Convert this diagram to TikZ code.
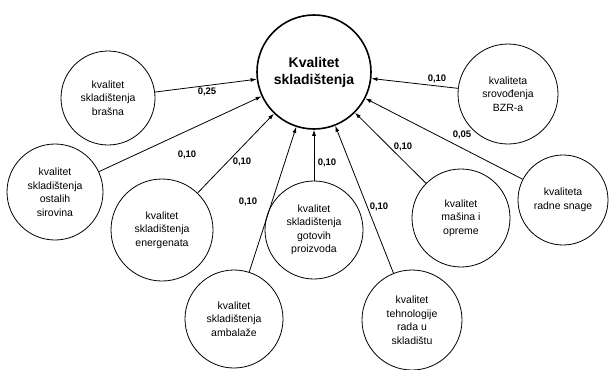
\documentclass[tikz,border=0pt]{standalone}
\usepackage{fontspec}
\setmainfont{Liberation Sans}
\usetikzlibrary{arrows.meta}
\begin{document}
\begin{tikzpicture}[x=1pt,y=-1pt,
  circ/.style={circle,draw,line width=0.8pt,inner sep=0pt,minimum size=#1,align=center,
    font=\fontsize{10.5}{13.5}\selectfont},
  mainc/.style={circle,draw,line width=1.6pt,inner sep=0pt,minimum size=114pt,align=center,
    font=\fontsize{14}{17}\selectfont\bfseries},
  arr/.style={-{Latex[length=6pt,width=4pt]},line width=0.8pt},
  lbl/.style={font=\fontsize{9.5}{11}\selectfont\bfseries,inner sep=0pt}]
\useasboundingbox (0,0) rectangle (609,369);
\node[mainc] (main) at (314,72) {Kvalitet\\skladištenja};
\node[circ=94pt] (bras) at (108,98) {kvalitet\\skladištenja\\brašna};
\node[circ=96pt] (ostal) at (55,192) {kvalitet\\skladištenja\\ostalih\\sirovina};
\node[circ=102pt] (energ) at (162,230) {kvalitet\\skladištenja\\energenata};
\node[circ=98pt] (ambal) at (234,319) {kvalitet\\skladištenja\\ambalaže};
\node[circ=98pt] (gotov) at (314,230) {kvalitet\\skladištenja\\gotovih\\proizvoda};
\node[circ=100pt] (tehno) at (412,320) {kvalitet\\tehnologije\\rada u\\skladištu};
\node[circ=98pt] (masin) at (461,218) {kvalitet\\mašina i\\opreme};
\node[circ=90pt] (radne) at (563,200) {kvaliteta\\radne snage};
\node[circ=100pt] (bzr) at (508,94) {kvaliteta\\srovođenja\\BZR-a};
\draw[arr] (bras) -- (main);
\draw[arr] (ostal) -- (main);
\draw[arr] (energ) -- (main);
\draw[arr] (ambal) -- (main);
\draw[arr] (gotov) -- (main);
\draw[arr] (tehno) -- (main);
\draw[arr] (masin) -- (main);
\draw[arr] (radne) -- (main);
\draw[arr] (bzr) -- (main);
\node[lbl] (l1) at (207,92) {0,25};
\node[lbl] (l2) at (187,155) {0,10};
\node[lbl] (l3) at (242,162) {0,10};
\node[lbl] (l4) at (248,202) {0,10};
\node[lbl] (l5) at (327,163) {0,10};
\node[lbl] (l6) at (379,207) {0,10};
\node[lbl] (l7) at (403,147) {0,10};
\node[lbl] (l8) at (462,135) {0,05};
\node[lbl] (l9) at (437,79) {0,10};
\end{tikzpicture}
\end{document}
